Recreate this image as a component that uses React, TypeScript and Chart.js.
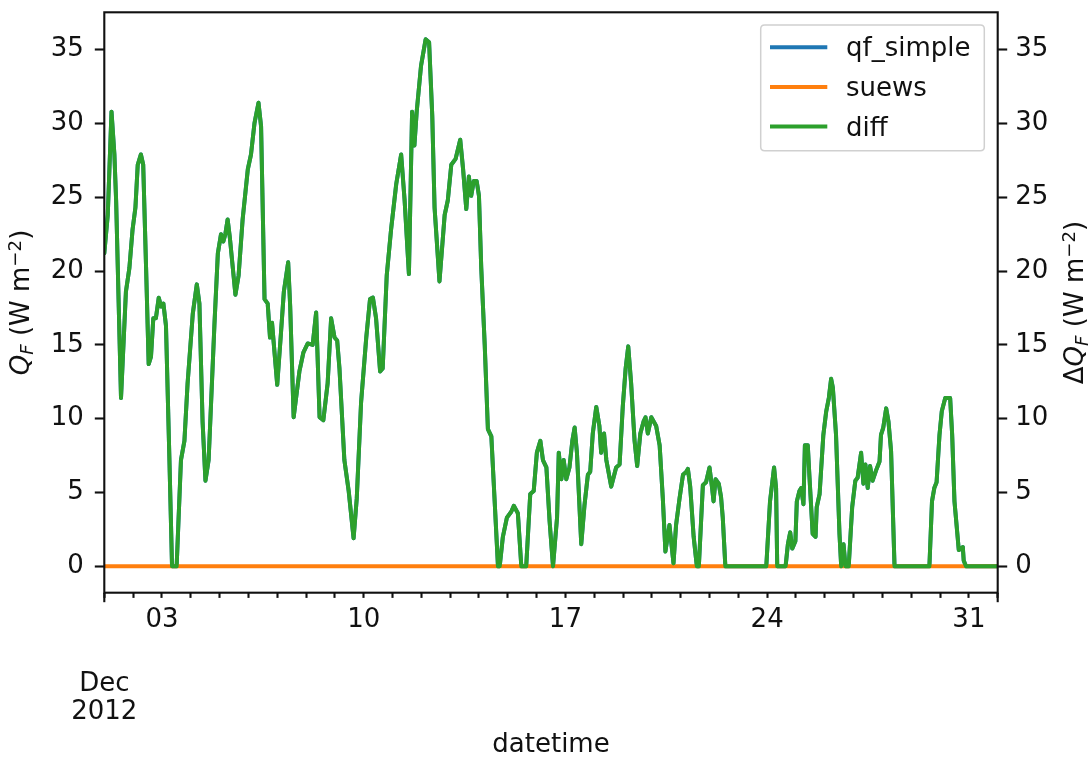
import React, { useEffect, useRef } from 'react';
import { Chart, registerables } from 'chart.js';

Chart.register(...registerables);

// ---- data (days since 2012-12-01 00:00) ----
const dayOffsets = [
  0.0, 0.12, 0.25, 0.35, 0.41, 0.58, 0.75, 0.87, 0.98, 1.08, 1.16, 1.27, 1.35, 1.45, 1.54, 1.62, 1.7, 1.79, 1.89, 1.97,
  2.05, 2.14, 2.26, 2.35, 2.51, 2.66, 2.78, 2.89, 3.07, 3.21, 3.3, 3.41, 3.51, 3.62, 3.82, 3.94, 4.05, 4.13, 4.2, 4.28,
  4.36, 4.46, 4.55, 4.66, 4.8, 4.98, 5.09, 5.21, 5.35, 5.44, 5.56, 5.67, 5.75, 5.82, 6.0, 6.13, 6.23, 6.38, 6.45, 6.57,
  6.77, 6.91, 7.06, 7.23, 7.35, 7.47, 7.6, 7.75, 7.87, 7.99, 8.08, 8.16, 8.33, 8.48, 8.65, 8.76, 8.91, 9.09, 9.22, 9.32,
  9.43, 9.57, 9.66, 9.8, 9.95, 10.13, 10.3, 10.42, 10.57, 10.68, 10.76, 10.84, 10.99, 11.15, 11.27, 11.38, 11.46, 11.63, 11.81, 11.92,
  12.04, 12.19, 12.35, 12.45, 12.56, 12.65, 12.73, 12.82, 12.92, 13.0, 13.08, 13.2, 13.31, 13.43, 13.54, 13.66, 13.72, 13.83, 13.97, 14.12,
  14.21, 14.35, 14.47, 14.64, 14.78, 14.9, 15.01, 15.13, 15.22, 15.34, 15.45, 15.57, 15.71, 15.77, 15.86, 15.94, 16.03, 16.14, 16.24, 16.32,
  16.4, 16.55, 16.66, 16.78, 16.86, 16.95, 17.07, 17.18, 17.24, 17.34, 17.42, 17.59, 17.76, 17.88, 17.99, 18.09, 18.18, 18.28, 18.4, 18.49,
  18.6, 18.71, 18.78, 18.86, 18.98, 19.15, 19.27, 19.38, 19.47, 19.61, 19.75, 19.84, 19.96, 20.08, 20.19, 20.25, 20.33, 20.45, 20.56, 20.63,
  20.77, 20.88, 21.0, 21.09, 21.14, 21.21, 21.32, 21.4, 21.46, 21.55, 22.97, 23.1, 23.24, 23.31, 23.35, 23.64, 23.72, 23.8, 23.87, 23.98,
  24.03, 24.12, 24.18, 24.26, 24.31, 24.41, 24.47, 24.58, 24.68, 24.72, 24.82, 24.95, 25.05, 25.14, 25.22, 25.28, 25.39, 25.51, 25.57, 25.65,
  25.72, 25.83, 25.95, 26.06, 26.14, 26.26, 26.34, 26.41, 26.49, 26.57, 26.66, 26.78, 26.9, 26.95, 27.03, 27.13, 27.21, 27.3, 27.42, 28.63,
  28.72, 28.8, 28.88, 28.98, 29.06, 29.18, 29.35, 29.42, 29.5, 29.65, 29.73, 29.79, 29.82, 29.9, 31.0,
];

const diffValues = [
  21.2, 23.8, 30.8, 27.9, 24.8, 11.4, 18.6, 20.2, 22.8, 24.3, 27.2, 27.9, 27.2, 20.2, 13.7, 14.2, 16.8, 16.8, 18.2, 17.6,
  17.8, 16.3, 7.2, 0.0, 0.0, 7.2, 8.5, 12.4, 17.1, 19.1, 17.8, 9.8, 5.8, 7.2, 16.3, 21.2, 22.5, 22.0, 22.5, 23.5,
  22.2, 20.2, 18.4, 19.7, 23.5, 26.9, 27.9, 30.0, 31.4, 29.8, 18.1, 17.8, 15.5, 16.5, 12.3, 15.8, 18.6, 20.6, 17.6, 10.1,
  13.2, 14.5, 15.1, 15.0, 17.2, 10.1, 9.9, 12.4, 16.8, 15.5, 15.3, 13.4, 7.2, 5.1, 1.9, 4.6, 11.1, 15.5, 18.1, 18.2,
  16.8, 13.2, 13.4, 19.7, 22.8, 25.9, 27.9, 24.8, 19.8, 30.8, 28.5, 30.8, 33.9, 35.7, 35.5, 30.5, 24.3, 19.3, 23.8, 24.8,
  27.2, 27.6, 28.9, 26.9, 24.2, 26.4, 25.1, 26.1, 26.1, 25.1, 20.2, 15.0, 9.3, 8.8, 4.6, 0.0, 0.0, 2.0, 3.3, 3.7,
  4.1, 3.6, 0.0, 0.0, 4.9, 5.1, 7.7, 8.5, 7.2, 6.7, 3.1, 0.0, 3.3, 7.7, 5.9, 7.2, 5.9, 6.7, 8.5, 9.4,
  7.7, 1.5, 4.1, 6.2, 6.4, 9.0, 10.8, 9.5, 7.7, 9.0, 7.2, 5.4, 6.7, 6.9, 10.8, 13.4, 14.9, 12.4, 8.5, 6.8,
  9.0, 9.8, 10.1, 9.0, 10.1, 9.5, 8.2, 4.6, 1.0, 2.8, 0.2, 2.8, 4.6, 6.2, 6.4, 6.6, 5.4, 2.0, 0.0, 0.0,
  5.5, 5.7, 6.7, 5.3, 4.4, 5.9, 5.6, 4.7, 3.3, 0.0, 0.0, 4.4, 6.7, 5.3, 0.0, 0.0, 1.5, 2.3, 1.2, 1.7,
  4.4, 5.1, 5.3, 4.2, 8.2, 8.2, 6.0, 2.2, 2.0, 4.0, 4.9, 8.9, 10.5, 11.4, 12.7, 12.1, 8.9, 2.2, 0.0, 1.5,
  0.0, 0.0, 4.0, 5.8, 6.0, 7.7, 5.6, 6.9, 5.3, 6.8, 5.8, 6.5, 7.1, 8.9, 9.4, 10.7, 9.8, 7.8, 0.0, 0.0,
  4.4, 5.3, 5.7, 8.9, 10.5, 11.4, 11.4, 8.9, 4.4, 1.1, 1.2, 1.3, 0.4, 0.0, 0.0,
];

// qf_simple equals diff here, since suews is zero throughout
const qfSimpleValues = diffValues;
const suewsDays = [0, 31];
const suewsValues = [0, 0];

const seriesNames = ['qf_simple', 'suews', 'diff'];
const seriesColors = ['#1f77b4', '#ff7f0e', '#2ca02c'];

const yTickValues = [0, 5, 10, 15, 20, 25, 30, 35];
const xMinorTickDays = Array.from({ length: 32 }, (_, i) => i);
const xMonthTickDays = [0, 31];
const xWeekTickDays = [2, 9, 16, 23, 30];
const xWeekTickLabels = ['03', '10', '17', '24', '31'];
const monthLabelLines = ['Dec', '2012'];

const xAxisTitle = 'datetime';
const FONT = 'DejaVu Sans';
const FS = 26;
const TEXT = '#111111';
const LW = 2.1;

type Part = { t: string; italic?: boolean; sub?: boolean; sup?: boolean };
const leftTitleParts: Part[] = [
  { t: 'Q', italic: true }, { t: 'F', italic: true, sub: true },
  { t: ' (W m' }, { t: '\u22122', sup: true }, { t: ')' },
];
const rightTitleParts: Part[] = [
  { t: '\u0394' }, { t: 'Q', italic: true }, { t: 'F', italic: true, sub: true },
  { t: ' (W m' }, { t: '\u22122', sup: true }, { t: ')' },
];

function partFont(p: Part) {
  const size = p.sub || p.sup ? FS * 0.7 : FS;
  return `${p.italic ? 'oblique ' : ''}${size}px "${FONT}"`;
}

function drawRotatedParts(ctx: CanvasRenderingContext2D, baseX: number, centerY: number, parts: Part[]) {
  ctx.save();
  ctx.translate(baseX, centerY);
  ctx.rotate(-Math.PI / 2);
  ctx.fillStyle = TEXT;
  ctx.textBaseline = 'alphabetic';
  ctx.textAlign = 'left';
  let total = 0;
  const widths = parts.map((p) => {
    ctx.font = partFont(p);
    const w = ctx.measureText(p.t).width;
    total += w;
    return w;
  });
  let x = -total / 2;
  parts.forEach((p, i) => {
    ctx.font = partFont(p);
    const dy = p.sub ? 4.5 : p.sup ? -8 : 0;
    ctx.fillText(p.t, x, dy);
    x += widths[i];
  });
  ctx.restore();
}

const decorPlugin = {
  id: 'decor',
  afterDatasetsDraw(chart: any) {
    const { ctx, chartArea } = chart;
    const { left, right, top, bottom } = chartArea;
    const xs = chart.scales.x;
    ctx.save();
    ctx.strokeStyle = TEXT;
    ctx.lineWidth = LW;
    ctx.strokeRect(left, top, right - left, bottom - top);
    xMonthTickDays.forEach((d) => {
      const px = xs.getPixelForValue(d);
      ctx.beginPath();
      ctx.moveTo(px, bottom);
      ctx.lineTo(px, bottom + 9.5);
      ctx.stroke();
    });
    ctx.restore();
  },
  afterDraw(chart: any) {
    const { ctx, chartArea } = chart;
    const cy = (chartArea.top + chartArea.bottom) / 2;
    drawRotatedParts(ctx, 28.5, cy, leftTitleParts);
    drawRotatedParts(ctx, 1083.3, cy, rightTitleParts);

    // legend
    const lx = 760.7, ly = 25, lw = 223.6, lh = 125.7, r = 4;
    ctx.save();
    ctx.beginPath();
    ctx.moveTo(lx + r, ly);
    ctx.lineTo(lx + lw - r, ly);
    ctx.quadraticCurveTo(lx + lw, ly, lx + lw, ly + r);
    ctx.lineTo(lx + lw, ly + lh - r);
    ctx.quadraticCurveTo(lx + lw, ly + lh, lx + lw - r, ly + lh);
    ctx.lineTo(lx + r, ly + lh);
    ctx.quadraticCurveTo(lx, ly + lh, lx, ly + lh - r);
    ctx.lineTo(lx, ly + r);
    ctx.quadraticCurveTo(lx, ly, lx + r, ly);
    ctx.closePath();
    ctx.fillStyle = 'rgba(255,255,255,0.8)';
    ctx.fill();
    ctx.strokeStyle = '#d0d0d0';
    ctx.lineWidth = 1.5;
    ctx.stroke();
    chart.data.datasets.forEach((ds: any, i: number) => {
      const rowY = 47.3 + i * 39.6;
      ctx.beginPath();
      ctx.moveTo(770, rowY);
      ctx.lineTo(827.3, rowY);
      ctx.strokeStyle = ds.borderColor;
      ctx.lineWidth = 4;
      ctx.lineCap = 'butt';
      ctx.stroke();
      ctx.fillStyle = TEXT;
      ctx.font = `${FS}px "${FONT}"`;
      ctx.textBaseline = 'alphabetic';
      ctx.textAlign = 'left';
      ctx.fillText(ds.label, 846, rowY + 9);
    });
    ctx.restore();
  },
};

function yAxis(position: 'left' | 'right', width: number, padding: number) {
  return {
    type: 'linear',
    position,
    min: -1.787,
    max: 37.53,
    afterBuildTicks: (s: any) => {
      s.ticks = yTickValues.map((v) => ({ value: v }));
    },
    afterFit: (s: any) => {
      s.width = width;
      s.paddingTop = 0;
      s.paddingBottom = 0;
    },
    ticks: {
      font: { family: FONT, size: FS },
      color: TEXT,
      padding,
      callback: (v: any) => String(v),
    },
    grid: {
      drawOnChartArea: false,
      drawTicks: true,
      tickLength: 9.5,
      tickColor: TEXT,
      tickWidth: LW,
    },
    border: { display: false },
  };
}

export default function App() {
  const canvasRef = useRef<HTMLCanvasElement | null>(null);

  useEffect(() => {
    if (!canvasRef.current) return;
    const toPoints = (xs: number[], ys: number[]) => xs.map((x, i) => ({ x, y: ys[i] }));
    const chart = new Chart(canvasRef.current, {
      type: 'line',
      data: {
        datasets: [
          {
            label: seriesNames[0],
            data: toPoints(dayOffsets, qfSimpleValues),
            borderColor: seriesColors[0],
            yAxisID: 'y',
            order: 2,
          },
          {
            label: seriesNames[1],
            data: toPoints(suewsDays, suewsValues),
            borderColor: seriesColors[1],
            yAxisID: 'y',
            order: 1,
          },
          {
            label: seriesNames[2],
            data: toPoints(dayOffsets, diffValues),
            borderColor: seriesColors[2],
            yAxisID: 'y2',
            order: 0,
          },
        ] as any,
      },
      options: {
        animation: false,
        responsive: true,
        maintainAspectRatio: false,
        devicePixelRatio: 1,
        layout: { padding: { top: 12.3, left: 0, right: 0, bottom: 0 } },
        elements: {
          point: { radius: 0 },
          line: { borderWidth: 4, tension: 0, borderJoinStyle: 'round', borderCapStyle: 'round', fill: false },
        },
        plugins: { legend: { display: false }, tooltip: { enabled: false } },
        scales: {
          x: {
            type: 'linear',
            min: 0,
            max: 31,
            afterBuildTicks: (s: any) => {
              s.ticks = xMinorTickDays.map((v) => ({ value: v }));
            },
            afterFit: (s: any) => {
              s.height = 164.3;
              s.paddingLeft = 0;
              s.paddingRight = 0;
            },
            ticks: {
              autoSkip: false,
              maxRotation: 0,
              minRotation: 0,
              padding: 15.9,
              color: TEXT,
              font: (ctx: any) =>
                ctx.tick && ctx.tick.value === xMonthTickDays[0]
                  ? { family: FONT, size: FS, lineHeight: 28 / FS }
                  : { family: FONT, size: FS, lineHeight: 12 / FS },
              callback: (v: any) => {
                if (v === xMonthTickDays[0]) return ['', '', ...monthLabelLines];
                const idx = xWeekTickDays.indexOf(v);
                return idx >= 0 ? xWeekTickLabels[idx] : '';
              },
            },
            grid: {
              drawOnChartArea: false,
              drawTicks: true,
              tickLength: 5.2,
              tickColor: TEXT,
              tickWidth: LW,
            },
            border: { display: false },
            title: {
              display: true,
              text: xAxisTitle,
              color: TEXT,
              font: { family: FONT, size: FS, lineHeight: 22.6 / FS },
              padding: { top: 0, bottom: 0 },
            },
          },
          y: yAxis('left', 104.3, 11),
          y2: yAxis('right', 91.3, 8),
        } as any,
      },
      plugins: [decorPlugin],
    });
    return () => chart.destroy();
  }, []);

  return (
    <div style={{ position: 'fixed', left: 0, top: 0, width: 1089, height: 757, background: '#fff' }}>
      <canvas ref={canvasRef} />
    </div>
  );
}
